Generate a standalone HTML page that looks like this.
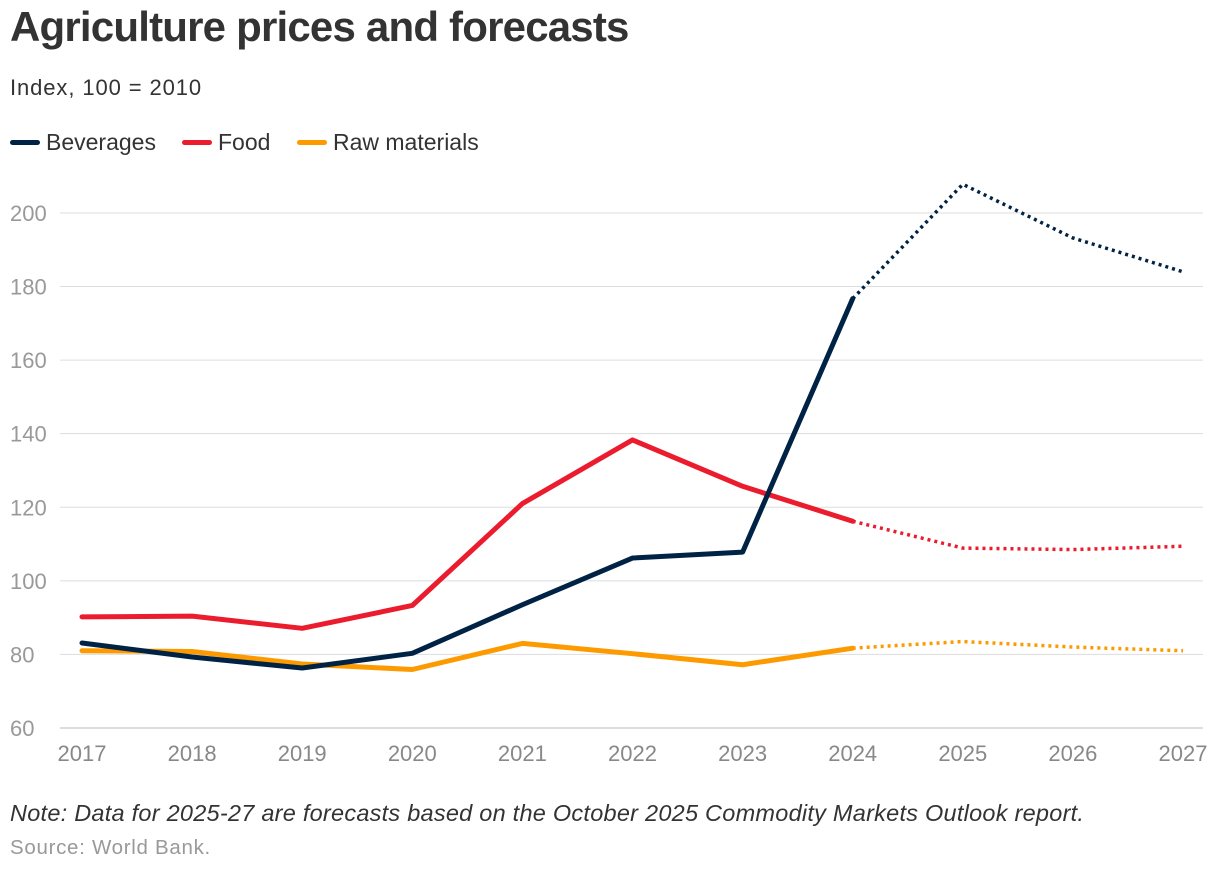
<!DOCTYPE html>
<html><head><meta charset="utf-8"><style>
body{margin:0;background:#fff;font-family:"Liberation Sans",sans-serif;width:1220px;height:870px;overflow:hidden;position:relative}
.t{position:absolute;left:10px;top:3px;font-size:42px;color:#333;letter-spacing:-0.8px;font-weight:bold}
.s{position:absolute;left:10px;top:75px;font-size:22px;color:#333;letter-spacing:0.9px}
.lg{position:absolute;top:129px;font-size:23px;color:#333;display:flex;align-items:center}
.lg i{display:inline-block;width:30px;height:5px;border-radius:3px;margin-right:6px}
.n{position:absolute;left:10px;top:800px;font-size:23.5px;font-style:italic;color:#333;white-space:nowrap;letter-spacing:0.25px}
.src{position:absolute;left:10px;top:836px;font-size:20.5px;color:#999;letter-spacing:0.7px}
</style></head><body>
<div class="t">Agriculture prices and forecasts</div>
<div class="s">Index, 100 = 2010</div>
<div class="lg" style="left:10px"><i style="background:#002345"></i>Beverages</div>
<div class="lg" style="left:182px"><i style="background:#eb1c2d"></i>Food</div>
<div class="lg" style="left:297px"><i style="background:#fd9a00"></i>Raw materials</div>
<svg id="c" width="1220" height="870" style="position:absolute;left:0;top:0"></svg>
<div class="n">Note: Data for 2025-27 are forecasts based on the October 2025 Commodity Markets Outlook report.</div>
<div class="src">Source: World Bank.</div>
<script>
const years=[2017,2018,2019,2020,2021,2022,2023,2024,2025,2026,2027];
const beverages=[83.1,79.3,76.3,80.3,93.5,106.2,107.8,176.7,207.8,193.2,184];
const food=[90.2,90.4,87.1,93.3,121,138.3,125.7,116.2,108.9,108.5,109.4];
const rawMaterials=[81,80.8,77.4,75.9,83,80.2,77.2,81.7,83.5,82,81];
const yTicks=[60,80,100,120,140,160,180,200];
const forecastStart=7;
const NS="http://www.w3.org/2000/svg",svg=document.getElementById('c');
const X=i=>82+i*110.1, Y=v=>728-(v-60)*3.679;
function mk(t,a){const e=document.createElementNS(NS,t);for(const k in a)e.setAttribute(k,a[k]);svg.appendChild(e);return e;}
yTicks.forEach(v=>{
 const l=mk('line',{x1:60,x2:1203,y1:Y(v),y2:Y(v),stroke:v===60?'#bbb':'#ddd','stroke-width':1});
 
 
 const t=mk('text',{x:10,y:Y(v)+8,'font-size':22,fill:'#999','font-family':'Liberation Sans'});t.textContent=v;
 
 
});
years.forEach((y,i)=>{
 const t=mk('text',{x:X(i),y:761,'font-size':22,fill:'#888','text-anchor':'middle','font-family':'Liberation Sans'});t.textContent=y;
 
 
});
function series(vals,color,name){
 const pts=vals.map((v,i)=>X(i)+','+Y(v));
 const a=mk('polyline',{points:pts.slice(0,forecastStart+1).join(' '),fill:'none',stroke:color,'stroke-width':5,'stroke-linejoin':'round','stroke-linecap':'round'});
 
 
 const b=mk('polyline',{points:pts.slice(forecastStart).join(' '),fill:'none',stroke:color,'stroke-width':3.5,'stroke-dasharray':'3 4'});
 
 
}
series(rawMaterials,'#fd9a00','raw-materials');
series(food,'#eb1c2d','food');
series(beverages,'#002345','beverages');
</script>
</body></html>
